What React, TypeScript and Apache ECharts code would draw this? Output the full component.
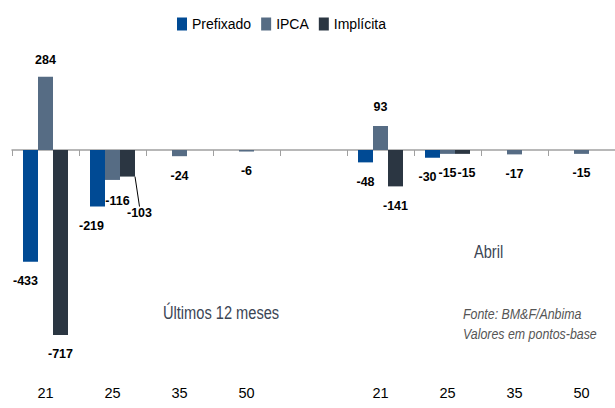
import React, { useEffect, useRef } from "react";
import * as echarts from "echarts";

const categories = ["21", "25", "35", "50", "", "21", "25", "35", "50"];
const prefixado = [-433, -219, null, null, null, -48, -30, null, null];
const ipca = [284, -116, -24, -6, null, 93, -15, -17, -15];
const implicita = [-717, -103, null, null, null, -141, -15, null, null];

const FONT = "'Liberation Sans', Arial, sans-serif";

// label nudges: [seriesIndex, dataIndex, dx, dy]
const labelNudges: [number, number, number, number][] = [
  [0, 0, -5, 0],
  [0, 1, -6, 0],
  [0, 6, -5, 0],
  [1, 0, 0, 3],
  [1, 1, 5, 2],
  [2, 1, 12, 17],
  [2, 6, 4, 0],
];

export default function App() {
  const ref = useRef<HTMLDivElement>(null);
  useEffect(() => {
    if (!ref.current) return;
    const chart = echarts.init(ref.current, null, { renderer: "svg" });
    const labelBase = {
      show: true,
      position: "outside",
      distance: 13,
      fontFamily: FONT,
      fontWeight: "bold",
      fontSize: 12.5,
      color: "#000",
    };
    const mk = (vals: (number | null)[], overrides: Record<number, any> = {}) =>
      vals.map((v, i) => (overrides[i] ? { value: v, ...overrides[i] } : v));
    chart.setOption({
      animation: false,
      legend: {
        left: 172,
        top: 12,
        itemWidth: 10,
        itemHeight: 13,
        itemGap: 10,
        icon: "rect",
        textStyle: { fontFamily: FONT, fontSize: 14, color: "#000" },
        data: ["Prefixado", "IPCA", "Implícita"],
      },
      grid: { left: 12, right: -5, top: 72.6, bottom: 51.6, containLabel: false },
      xAxis: [
        {
          type: "category",
          data: categories,
          axisLine: { onZero: true, lineStyle: { color: "#A0A0A0", width: 1.5 } },
          axisTick: { show: true, length: 6, lineStyle: { color: "#A0A0A0", width: 1 } },
          axisLabel: { show: false },
        },
        {
          type: "category",
          data: categories,
          position: "bottom",
          axisLine: { show: false },
          axisTick: { show: false },
          axisLabel: { show: true, margin: 29, fontFamily: FONT, fontSize: 14.5, color: "#000" },
        },
      ],
      yAxis: {
        type: "value",
        min: -800,
        max: 300,
        show: false,
        splitLine: { show: false },
      },
      series: [
        {
          name: "Prefixado",
          type: "bar",
          xAxisIndex: 0,
          barWidth: 15,
          barGap: "0%",
          itemStyle: { color: "#004A94" },
          label: labelBase,
          data: prefixado,
        },
        {
          name: "IPCA",
          type: "bar",
          xAxisIndex: 0,
          barWidth: 15,
          barGap: "0%",
          itemStyle: { color: "#566C84" },
          label: labelBase,
          data: ipca,
        },
        {
          name: "Implícita",
          type: "bar",
          xAxisIndex: 0,
          barWidth: 15,
          barGap: "0%",
          itemStyle: { color: "#2B3642" },
          label: labelBase,
          labelLine: { show: false, lineStyle: { color: "#000", width: 1 } },
          data: mk(implicita, {
            1: { labelLine: { show: true, lineStyle: { color: "#000", width: 1 } } },
          }),
        },
      ],
      labelLayout: (params: any) => {
        for (const [s, d, dx, dy] of labelNudges) {
          if (params.seriesIndex === s && params.dataIndex === d) return { dx, dy };
        }
        return {};
      },
      graphic: [
        {
          type: "text",
          x: 163,
          y: 313,
          scaleX: 0.77,
          style: {
            text: "Últimos 12 meses",
            fontFamily: FONT,
            fontSize: 19,
            fill: "#3C4655",
            verticalAlign: "middle",
          },
        },
        {
          type: "text",
          x: 474,
          y: 252,
          scaleX: 0.77,
          style: {
            text: "Abril",
            fontFamily: FONT,
            fontSize: 19,
            fill: "#3C4655",
            verticalAlign: "middle",
          },
        },
        {
          type: "text",
          x: 463,
          y: 313,
          scaleX: 0.8,
          style: {
            text: "Fonte: BM&F/Anbima",
            fontFamily: FONT,
            fontStyle: "italic",
            fontSize: 15.5,
            fill: "#555",
            verticalAlign: "middle",
          },
        },
        {
          type: "text",
          x: 463,
          y: 333,
          scaleX: 0.8,
          style: {
            text: "Valores em pontos-base",
            fontFamily: FONT,
            fontStyle: "italic",
            fontSize: 15.5,
            fill: "#555",
            verticalAlign: "middle",
          },
        },
      ],
    });
    return () => chart.dispose();
  }, []);
  return (
    <div
      ref={ref}
      style={{ position: "fixed", left: 0, top: 0, width: 615, height: 408, background: "#fff" }}
    />
  );
}
